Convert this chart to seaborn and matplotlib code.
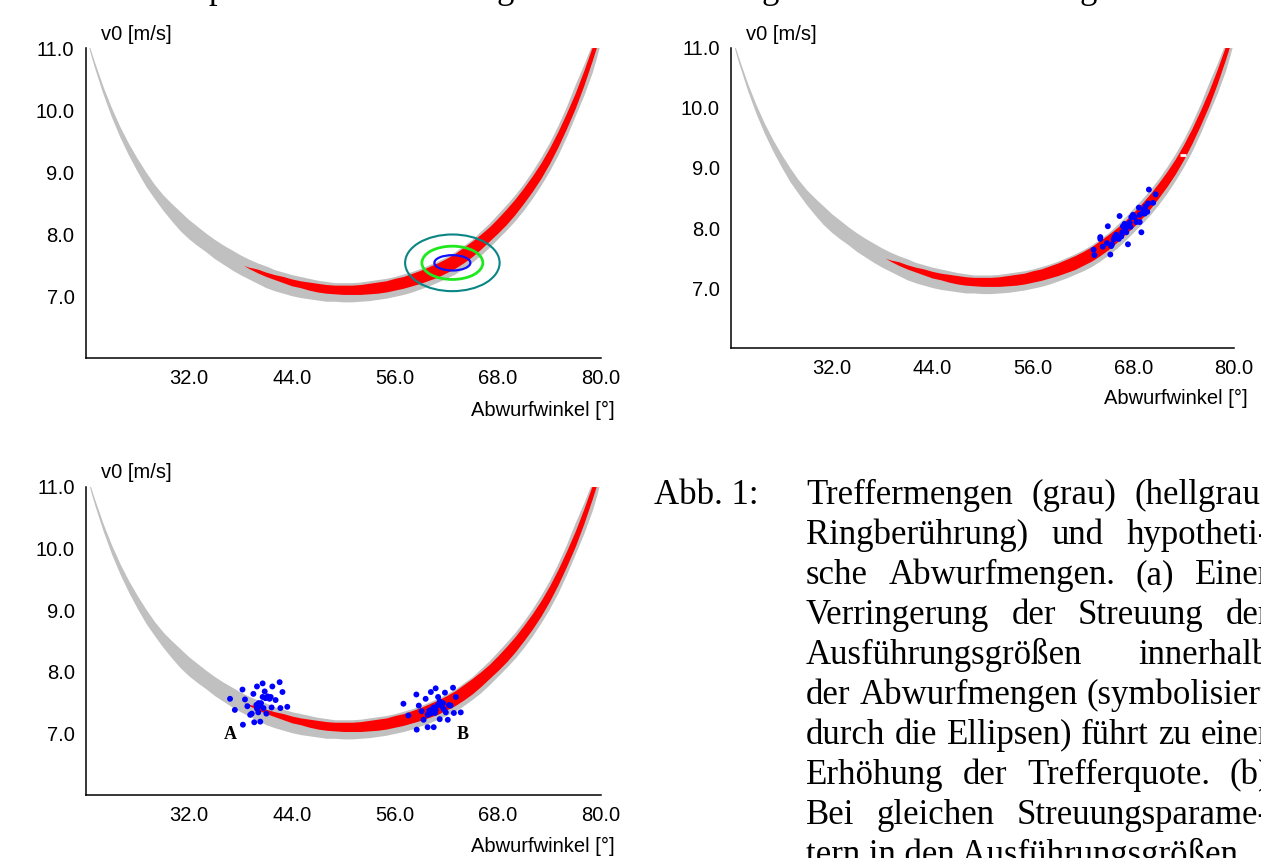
import numpy as np
import matplotlib
matplotlib.use("Agg")
import matplotlib.pyplot as plt
from matplotlib.patches import Ellipse
import seaborn as sns

# Treffermenge (grau): Abwurfwinkel [°] -> untere / obere Grenze v0 [m/s]
winkel = [20.3, 20.6, 21, 22, 23, 24, 25, 26, 27, 28, 29, 30, 31, 32, 33, 34, 35, 36, 37, 38, 39, 40,
          41, 42, 43, 44, 45, 46, 47, 48, 49, 50, 51, 52, 53, 54, 55, 56, 57, 58, 59, 60,
          61, 62, 63, 64, 65, 66, 67, 68, 69, 70, 71, 72, 73, 74, 75, 76, 77, 78, 79, 79.5, 80]
grau_unten = [11.06, 10.90, 10.71, 10.28, 9.90, 9.57, 9.28, 9.02, 8.78, 8.58, 8.39, 8.22, 8.06, 7.93,
              7.82, 7.72, 7.61, 7.52, 7.43, 7.35, 7.28, 7.21, 7.14, 7.09, 7.05, 7.01, 6.98, 6.96, 6.94,
              6.92, 6.92, 6.91, 6.91, 6.92, 6.93, 6.95, 6.97, 7.00, 7.03, 7.07, 7.12, 7.17, 7.23, 7.29,
              7.36, 7.45, 7.55, 7.66, 7.79, 7.93, 8.07, 8.22, 8.39, 8.58, 8.79, 9.02, 9.28, 9.58, 9.91,
              10.24, 10.62, 10.86, 11.12]
grau_oben = [11.11, 10.97, 10.80, 10.40, 10.05, 9.74, 9.47, 9.23, 9.01, 8.81, 8.64, 8.50, 8.37, 8.24,
             8.13, 8.02, 7.92, 7.83, 7.75, 7.67, 7.60, 7.54, 7.49, 7.43, 7.39, 7.35, 7.32, 7.29, 7.26,
             7.24, 7.22, 7.22, 7.22, 7.23, 7.25, 7.27, 7.29, 7.32, 7.36, 7.40, 7.45, 7.51, 7.57, 7.64,
             7.72, 7.82, 7.92, 8.05, 8.18, 8.33, 8.48, 8.64, 8.82, 9.02, 9.24, 9.48, 9.76, 10.07, 10.42,
             10.74, 11.09, 11.27, 11.53]

# rote Menge
winkel_rot = [38.4, 39, 40, 41, 42, 43, 44, 45, 46, 47, 48, 49, 50, 51, 52, 53, 54, 55, 56, 57, 58, 59,
              60, 61, 62, 63, 64, 65, 66, 67, 68, 69, 70, 71, 72, 73, 74, 75, 76, 77, 78, 79, 79.5, 80]
rot_unten = [7.50, 7.45, 7.38, 7.32, 7.27, 7.22, 7.17, 7.14, 7.10, 7.07, 7.05, 7.04, 7.03, 7.03, 7.03,
             7.04, 7.05, 7.07, 7.10, 7.13, 7.17, 7.21, 7.26, 7.31, 7.38, 7.45, 7.54, 7.64, 7.76, 7.89,
             8.02, 8.16, 8.32, 8.50, 8.69, 8.90, 9.14, 9.41, 9.71, 10.03, 10.40, 10.81, 11.03, 11.28]
rot_oben = [7.50, 7.47, 7.44, 7.39, 7.35, 7.32, 7.28, 7.25, 7.23, 7.21, 7.19, 7.18, 7.18, 7.18, 7.19,
            7.21, 7.23, 7.25, 7.29, 7.32, 7.37, 7.42, 7.48, 7.54, 7.61, 7.69, 7.79, 7.89, 8.00, 8.12,
            8.26, 8.41, 8.57, 8.75, 8.94, 9.15, 9.39, 9.66, 9.96, 10.28, 10.64, 11.03, 11.25, 11.47]

# (a) Ellipsen um den Abwurfpunkt
ell_mitte = (62.7, 7.54)
ell_breite = [11.0, 7.1, 4.19]
ell_hoehe = [0.914, 0.537, 0.247]
ell_farbe = ['#0a8585', '#1ee81e', '#1010ff']
ell_lw = [1.5, 2.0, 1.6]

# (b) Abwurfpunkte oben rechts
b_x = [69.85, 70.65, 70.35, 69.75, 69.45, 68.65, 69.25, 69.05, 69.35, 68.75, 67.95, 68.15, 68.35, 68.75,
       66.35, 67.55, 67.35, 66.95, 66.75, 67.15, 66.65, 65.95, 66.25, 66.55, 65.75, 65.65, 64.95, 64.05,
       64.05, 64.85, 64.35, 65.45, 65.35, 68.95, 67.35, 63.25, 63.35, 65.25, 67.75, 69.65, 67.05, 67.65]
b_y = [8.64, 8.56, 8.42, 8.41, 8.36, 8.34, 8.31, 8.25, 8.24, 8.22, 8.22, 8.18, 8.10, 8.10,
       8.20, 8.09, 8.05, 8.07, 8.03, 7.93, 7.93, 7.89, 7.82, 7.86, 7.85, 7.81, 8.03, 7.85,
       7.82, 7.75, 7.69, 7.73, 7.70, 7.93, 7.73, 7.64, 7.55, 7.56, 8.18, 8.27, 7.99, 8.02]
weiss_x, weiss_y = [73.9], [9.22]

# Cluster A und B unten
a_x = [36.78, 37.34, 38.23, 38.52, 38.80, 38.28, 39.13, 39.31, 39.60, 39.50, 39.92, 40.11, 40.30, 39.92,
       40.30, 40.58, 40.82, 40.58, 40.91, 41.15, 41.38, 41.52, 41.71, 41.01, 41.62, 42.09, 42.56, 42.65,
       42.89, 43.45, 40.68, 40.07, 39.85, 40.39]
a_y = [7.56, 7.38, 7.71, 7.55, 7.44, 7.14, 7.30, 7.32, 7.18, 7.64, 7.76, 7.49, 7.45, 7.40,
       7.19, 7.81, 7.68, 7.59, 7.57, 7.60, 7.56, 7.59, 7.76, 7.32, 7.42, 7.54, 7.83, 7.41,
       7.67, 7.43, 7.41, 7.34, 7.46, 7.49]
c_x = [56.98, 57.55, 58.49, 58.53, 58.77, 59.10, 59.33, 59.57, 59.80, 60.51, 59.99, 60.18, 60.74, 60.13,
       60.32, 60.51, 60.74, 61.02, 61.21, 61.21, 61.45, 61.59, 61.68, 61.82, 61.92, 62.15, 62.29, 62.48,
       62.76, 62.86, 63.09, 63.66, 60.98, 60.65, 59.80]
c_y = [7.48, 7.29, 7.63, 7.06, 7.45, 7.36, 7.22, 7.56, 7.10, 7.10, 7.37, 7.67, 7.73, 7.32,
       7.39, 7.42, 7.38, 7.59, 7.52, 7.23, 7.44, 7.49, 7.39, 7.66, 7.34, 7.22, 7.46, 7.45,
       7.74, 7.33, 7.59, 7.34, 7.46, 7.33, 7.30]
labels_ab = ['A', 'B']
labels_ab_x = [36.8, 63.9]

x_ticks = [32, 44, 56, 68, 80]
y_ticks = [7, 8, 9, 10, 11]

# Bildunterschrift, Blocksatz
caption = [
    "Treffermengen (grau) (hellgrau:",
    "Ringberührung) und hypotheti-",
    "sche Abwurfmengen. (a) Einer",
    "Verringerung der Streuung der",
    "Ausführungsgrößen innerhalb",
    "der Abwurfmengen (symbolisiert",
    "durch die Ellipsen) führt zu einer",
    "Erhöhung der Trefferquote. (b)",
    "Bei gleichen Streuungsparame-",
]
caption_last = "tern in den Ausführungsgrößen"

W, H = 1261, 858
sns.set_style("white")
plt.rcParams['font.family'] = ['Liberation Sans', 'DejaVu Sans']
plt.rcParams['text.color'] = 'black'
fig = plt.figure(figsize=(W / 100, H / 100), dpi=100)

def px_axes(l, r, t, b):
    return fig.add_axes([l / W, 1 - b / H, (r - l) / W, (b - t) / H])

axes = []
for (l, r, t, b) in [(85.5, 601, 48.3, 358.3), (731, 1234, 47.7, 348.3), (86, 601, 486.7, 795)]:
    ax = px_axes(l, r, t, b)
    ax.fill_between(winkel, grau_unten, grau_oben, color='#c0c0c0', lw=0)
    ax.fill_between(winkel_rot, rot_unten, rot_oben, color='#ff0000', lw=0)
    ax.set_xlim(20, 80)
    ax.set_ylim(6, 11)
    ax.set_xticks(x_ticks)
    ax.set_yticks(y_ticks)
    ax.xaxis.set_major_formatter('{x:.1f}')
    ax.yaxis.set_major_formatter('{x:.1f}')
    ax.tick_params(axis='x', direction='inout', length=8, width=1, pad=4, labelsize=14.5, colors='black')
    ax.tick_params(axis='y', direction='out', length=4, width=1, pad=4, labelsize=14.5, colors='black')
    sns.despine(ax=ax)
    for s in ['left', 'bottom']:
        ax.spines[s].set_color('black')
        ax.spines[s].set_linewidth(1.1)
    ax.text(0.03, 1.045, 'v0 [m/s]', transform=ax.transAxes, fontsize=14.5, va='center', ha='left')
    ax.text(1.027, -0.167, 'Abwurfwinkel [°]', transform=ax.transAxes, fontsize=14.5,
            va='center', ha='right')
    axes.append(ax)

for w, h, c, lw in zip(ell_breite, ell_hoehe, ell_farbe, ell_lw):
    axes[0].add_patch(Ellipse(ell_mitte, w, h, fill=False, edgecolor=c, lw=lw))

sns.scatterplot(x=b_x, y=b_y, color='#0000ff', s=18, edgecolor='none', ax=axes[1])
axes[1].plot(weiss_x, weiss_y, marker='_', color='white', ms=4, mew=2, ls='none')

sns.scatterplot(x=a_x + c_x, y=a_y + c_y, color='#0000ff', s=18, edgecolor='none', ax=axes[2])
for lab, lx in zip(labels_ab, labels_ab_x):
    axes[2].text(lx, 6.98, lab, family='Liberation Serif', fontweight='bold', fontsize=13,
                 ha='center', va='center')

# Unterschrift im Blocksatz, rechter Rand liegt knapp ausserhalb des Bildes
serif = ['Liberation Serif', 'DejaVu Serif']
left_px, right_px, first_base, line_h = 806, 1270, 504, 40
fig.text(654 / W, 1 - first_base / H, 'Abb. 1:', family=serif, fontsize=25, va='baseline', ha='left')
renderer = fig.canvas.get_renderer()
for i, line in enumerate(caption):
    base = first_base + i * line_h
    words = line.split(' ')
    texts = [fig.text(0, 1 - base / H, wd, family=serif, fontsize=25, va='baseline', ha='left')
             for wd in words]
    widths = [t.get_window_extent(renderer).width for t in texts]
    gap = (right_px - left_px - sum(widths)) / (len(words) - 1)
    x = left_px
    for t, wdt in zip(texts, widths):
        t.set_x(x / W)
        x += wdt + gap
fig.text(left_px / W, 1 - (first_base + len(caption) * line_h) / H, caption_last, family=serif,
         fontsize=25, va='baseline', ha='left')

# abgeschnittene Zeile am oberen Rand
for ch, x0 in [('p', 217), ('g', 505), ('g', 770), ('g', 1088)]:
    fig.text(x0 / W, 1 + 2 / H, ch, family=serif, fontsize=25, va='baseline', ha='center')

fig.savefig("out.png", dpi=100)
